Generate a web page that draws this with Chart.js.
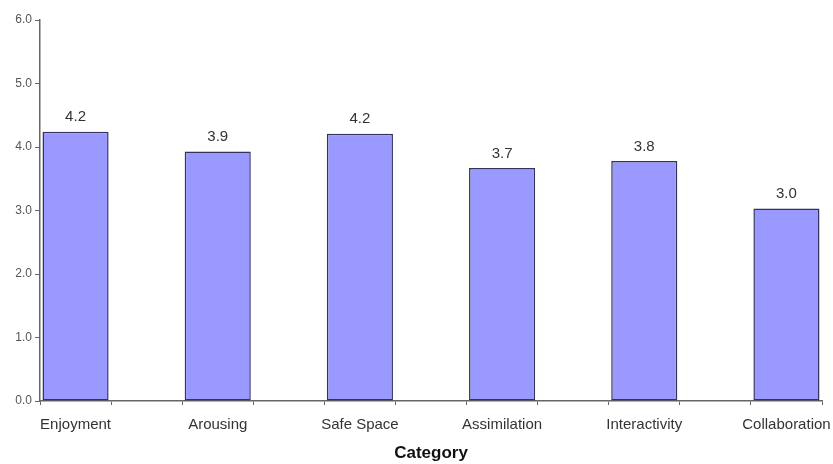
<!DOCTYPE html>
<html>
<head>
<meta charset="utf-8">
<script src="https://cdn.jsdelivr.net/npm/chart.js@4/dist/chart.umd.min.js"></script>
<style>
  html, body { margin: 0; padding: 0; background: #fff; }
  #wrap { width: 833px; height: 464px; }
</style>
</head>
<body>
<div id="wrap"><canvas id="chart" width="833" height="464"></canvas></div>
<script>
// data
var categories = ["Enjoyment", "Arousing", "Safe Space", "Assimilation", "Interactivity", "Collaboration"];
var scores = [4.24, 3.93, 4.21, 3.67, 3.78, 3.03];
var yTicks = [0, 1, 2, 3, 4, 5, 6];

// the original leaves an empty slot after every bar, so interleave blanks
var slotLabels = [];
var slotValues = [];
for (var i = 0; i < categories.length; i++) {
    slotLabels.push(categories[i]);
    slotValues.push(scores[i]);
    if (i < categories.length - 1) {
        slotLabels.push("");
        slotValues.push(null);
    }
}

var valueLabels = {
    id: 'valueLabels',
    afterDatasetsDraw: function (chart) {
        var ctx = chart.ctx;
        var meta = chart.getDatasetMeta(0);
        ctx.save();
        ctx.font = '15px "Liberation Sans", Arial, sans-serif';
        ctx.fillStyle = '#333';
        ctx.textAlign = 'center';
        ctx.textBaseline = 'bottom';
        meta.data.forEach(function (bar, idx) {
            var v = slotValues[idx];
            if (v === null) return;
            ctx.fillText(v.toFixed(1), bar.x, bar.y - 7);
        });
        ctx.restore();
    }
};

var ctx = document.getElementById("chart");
var chart = new Chart(ctx, {
    type: 'bar',
    data: {
        labels: slotLabels,
        datasets: [{
            data: slotValues,
            backgroundColor: '#9999ff',
            borderColor: '#33335e',
            borderWidth: 1.5,
            borderSkipped: false,
            barPercentage: 0.93,
            categoryPercentage: 1
        }]
    },
    options: {
        responsive: false,
        animation: false,
        layout: { padding: { top: 20, right: 11, left: 0, bottom: 0 } },
        plugins: {
            legend: { display: false },
            tooltip: { enabled: false }
        },
        scales: {
            x: {
                grid: { drawOnChartArea: false, drawTicks: true, tickLength: 4, color: '#666', offset: true },
                border: { display: true, color: '#666', width: 1.5 },
                ticks: {
                    autoSkip: false, maxRotation: 0, padding: 11,
                    color: '#333',
                    font: { family: '"Liberation Sans", Arial, sans-serif', size: 15 }
                },
                title: {
                    display: true,
                    text: 'Category',
                    color: '#111',
                    font: { family: '"Liberation Sans", Arial, sans-serif', size: 17, weight: 'bold' },
                    padding: { top: 4, bottom: 0 }
                },
                afterFit: function (scale) {
                    scale.height = 63;
                    scale.paddingLeft = 0;
                    scale.paddingRight = 0;
                }
            },
            y: {
                min: yTicks[0],
                max: yTicks[yTicks.length - 1],
                afterBuildTicks: function (scale) {
                    scale.ticks = yTicks.map(function (v) { return { value: v }; });
                },
                grid: { drawOnChartArea: false, drawTicks: true, tickLength: 5, color: '#666' },
                border: { display: true, color: '#666', width: 1.5 },
                ticks: {
                    padding: 3,
                    color: '#555',
                    font: { family: '"Liberation Sans", Arial, sans-serif', size: 12 },
                    callback: function (v) { return Number(v).toFixed(1); }
                },
                afterFit: function (scale) { scale.width = 40; }
            }
        }
    },
    plugins: [valueLabels]
});
</script>
</body>
</html>
